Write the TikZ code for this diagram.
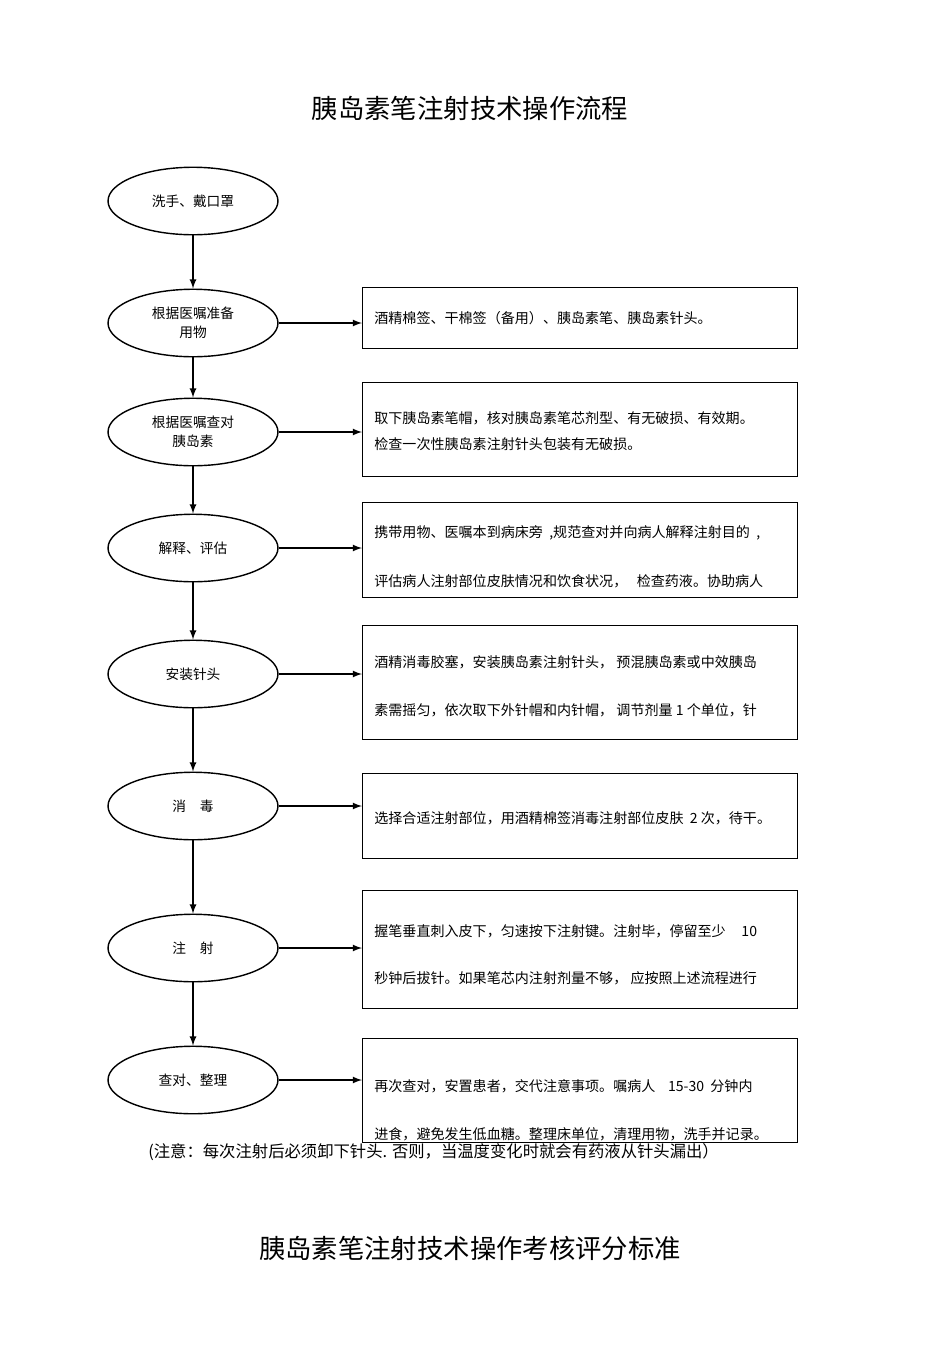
\documentclass[tikz,border=0pt]{standalone}
\usepackage{fontspec}
\setmainfont{Noto Sans CJK SC}
\usetikzlibrary{shapes.geometric}
\tikzset{
  phase/.style={draw, ellipse, thick, minimum width=3.4cm, minimum height=1.35cm, font=\fontsize{7.8pt}{11pt}\selectfont, align=center},
  info/.style={draw, thick, minimum width=8.7cm, anchor=north west},
  txt/.style={anchor=west, font=\fontsize{8pt}{9pt}\selectfont, inner sep=0pt},
  go/.style={thick, -latex}
}
\begin{document}
\begin{tikzpicture}[x=0.02cm, y=-0.02cm]
        \useasboundingbox (0,0) rectangle (950,1346);
        \node[font=\fontsize{15pt}{17pt}\selectfont] (title) at (470,108) {胰岛素笔注射技术操作流程};

        \node[phase] (s1) at (193,201) {洗手、戴口罩};
        \node[phase] (s2) at (193,323) {根据医嘱准备\\用物};
        \node[phase] (s3) at (193,432) {根据医嘱查对\\胰岛素};
        \node[phase] (s4) at (193,548) {解释、评估};
        \node[phase] (s5) at (193,674) {安装针头};
        \node[phase] (s6) at (193,806) {消\quad 毒};
        \node[phase] (s7) at (193,948) {注\quad 射};
        \node[phase] (s8) at (193,1080) {查对、整理};

        \node[info, minimum height=1.22cm] (b2) at (362,287) {};
        \node[info, minimum height=1.88cm] (b3) at (362,382) {};
        \node[info, minimum height=1.9cm] (b4) at (362,502) {};
        \node[info, minimum height=2.28cm] (b5) at (362,625) {};
        \node[info, minimum height=1.7cm] (b6) at (362,773) {};
        \node[info, minimum height=2.36cm] (b7) at (362,890) {};
        \node[info, minimum height=2.08cm] (b8) at (362,1038) {};

        \node[txt] (t2) at (374,318) {酒精棉签、干棉签（备用）、胰岛素笔、胰岛素针头。};
        \node[txt] (t3a) at (374,418) {取下胰岛素笔帽，核对胰岛素笔芯剂型、有无破损、有效期。};
        \node[txt] (t3b) at (374,444) {检查一次性胰岛素注射针头包装有无破损。};
        \node[txt] (t4a) at (374,533) {携带用物、医嘱本到病床旁\ \ ,规范查对并向病人解释注射目的\ \ ,};
        \node[txt] (t4b) at (374,581) {评估病人注射部位皮肤情况和饮食状况，\ \ \ 检查药液。协助病人};
        \node[txt] (t5a) at (374,662) {酒精消毒胶塞，安装胰岛素注射针头，\ 预混胰岛素或中效胰岛};
        \node[txt] (t5b) at (374,710) {素需摇匀，依次取下外针帽和内针帽，\ 调节剂量 1 个单位，针};
        \node[txt] (t6) at (374,818) {选择合适注射部位，用酒精棉签消毒注射部位皮肤\ \ 2 次，待干。};
        \node[txt] (t7a) at (374,931) {握笔垂直刺入皮下，匀速按下注射键。注射毕，停留至少\ \ \ \ \ 10};
        \node[txt] (t7b) at (374,978) {秒钟后拔针。如果笔芯内注射剂量不够，\ 应按照上述流程进行};
        \node[txt] (t8a) at (374,1086) {再次查对，安置患者，交代注意事项。嘱病人\ \ \ \ 15-30\ \ 分钟内};
        \node[txt] (t8b) at (374,1134) {进食，避免发生低血糖。整理床单位，清理用物，洗手并记录。};

        \node[txt, font=\fontsize{9.3pt}{11pt}\selectfont] (note) at (148,1152) {(注意：每次注射后必须卸下针头. 否则，当温度变化时就会有药液从针头漏出）};
        \node[font=\fontsize{15pt}{17pt}\selectfont] (title2) at (470,1248) {胰岛素笔注射技术操作考核评分标准};

        \draw[go] (s1) -- (s2);
        \draw[go] (s2) -- (s3);
        \draw[go] (s3) -- (s4);
        \draw[go] (s4) -- (s5);
        \draw[go] (s5) -- (s6);
        \draw[go] (s6) -- (s7);
        \draw[go] (s7) -- (s8);
        \draw[go] (s2.east) -- (s2.east -| b2.west);
        \draw[go] (s3.east) -- (s3.east -| b3.west);
        \draw[go] (s4.east) -- (s4.east -| b4.west);
        \draw[go] (s5.east) -- (s5.east -| b5.west);
        \draw[go] (s6.east) -- (s6.east -| b6.west);
        \draw[go] (s7.east) -- (s7.east -| b7.west);
        \draw[go] (s8.east) -- (s8.east -| b8.west);
    \end{tikzpicture}
\end{document}
